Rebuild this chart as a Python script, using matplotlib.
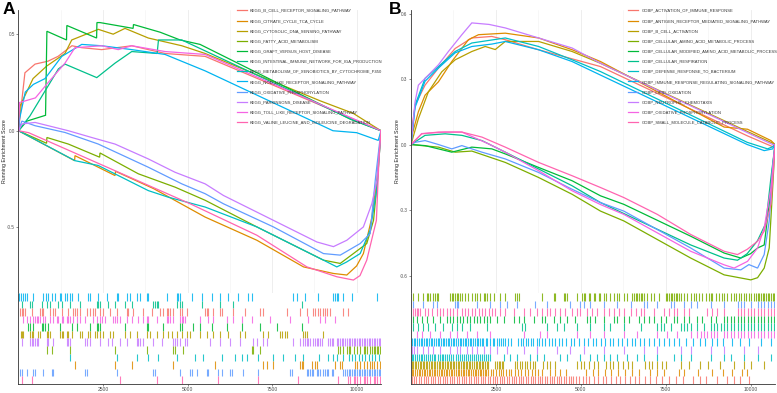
import matplotlib
matplotlib.use("Agg")
import matplotlib.pyplot as plt
from matplotlib.lines import Line2D

plt.rcParams['font.family'] = ['Liberation Sans', 'DejaVu Sans']
plt.rcParams['axes.unicode_minus'] = False

# ggplot hue palette, one colour per gene set (legend order)
PALETTE = ['#F8766D', '#DE8C00', '#B79F00', '#7CAE00', '#00BA38', '#00C08B',
           '#00BFC4', '#00B4F0', '#619CFF', '#C77CFF', '#F564E3', '#FF64B0']
N_GENES = 10720
X_TICKS = [2500, 5000, 7500, 10000]

# ---------------- Panel A : KEGG ----------------
A_NAMES = ['KEGG_B_CELL_RECEPTOR_SIGNALING_PATHWAY', 'KEGG_CITRATE_CYCLE_TCA_CYCLE',
           'KEGG_CYTOSOLIC_DNA_SENSING_PATHWAY', 'KEGG_FATTY_ACID_METABOLISM',
           'KEGG_GRAFT_VERSUS_HOST_DISEASE', 'KEGG_INTESTINAL_IMMUNE_NETWORK_FOR_IGA_PRODUCTION',
           'KEGG_METABOLISM_OF_XENOBIOTICS_BY_CYTOCHROME_P450', 'KEGG_NOD_LIKE_RECEPTOR_SIGNALING_PATHWAY',
           'KEGG_OXIDATIVE_PHOSPHORYLATION', 'KEGG_PARKINSONS_DISEASE',
           'KEGG_TOLL_LIKE_RECEPTOR_SIGNALING_PATHWAY', 'KEGG_VALINE_LEUCINE_AND_ISOLEUCINE_DEGRADATION']

# running enrichment score (rank, score)
A_BCELL_X = [0, 190, 490, 870, 1170, 1580, 1870, 2460, 3350, 4335, 5520, 10720]
A_BCELL_Y = [0, 0.30, 0.345, 0.36, 0.385, 0.44, 0.43, 0.42, 0.44, 0.40, 0.385, 0]
A_CITRATE_X = [0, 1660, 1670, 2855, 2870, 4000, 5520, 7050, 8430, 9315, 9710, 10000, 10200, 10450, 10600, 10720]
A_CITRATE_Y = [0, -0.155, -0.129, -0.232, -0.21, -0.30, -0.447, -0.567, -0.705, -0.739, -0.747, -0.70, -0.636, -0.45, -0.25, 0]
A_CYTO_X = [0, 50, 430, 835, 1375, 1575, 2360, 2800, 3150, 3840, 4830, 5520, 8920, 9900, 10720]
A_CYTO_Y = [0, 0.13, 0.27, 0.335, 0.40, 0.47, 0.525, 0.50, 0.53, 0.48, 0.44, 0.40, 0.155, 0.09, 0]
A_FATTY_X = [0, 830, 840, 1475, 2400, 2410, 3545, 4630, 5520, 7050, 9020, 9515, 9905, 10300, 10500, 10620, 10720]
A_FATTY_Y = [0, -0.065, -0.035, -0.069, -0.137, -0.115, -0.223, -0.292, -0.36, -0.498, -0.67, -0.687, -0.636, -0.584, -0.464, -0.25, 0]
A_GRAFT_X = [0, 250, 800, 840, 1420, 1430, 2310, 2320, 2410, 3390, 3400, 4190, 4780, 5370, 9810, 10720]
A_GRAFT_Y = [0, 0.05, 0.08, 0.515, 0.47, 0.545, 0.48, 0.56, 0.56, 0.53, 0.55, 0.51, 0.47, 0.447, 0.06, 0]
A_INTEST_X = [0, 340, 1180, 1375, 2315, 2855, 3350, 4100, 4140, 4830, 9900, 10720]
A_INTEST_Y = [0, 0.077, 0.32, 0.345, 0.275, 0.35, 0.41, 0.40, 0.47, 0.47, 0.055, 0]
A_XENO_X = [0, 1670, 2360, 3840, 4430, 5520, 7050, 9020, 9415, 9700, 10105, 10400, 10600, 10720]
A_XENO_Y = [0, -0.155, -0.18, -0.31, -0.344, -0.395, -0.498, -0.67, -0.705, -0.68, -0.636, -0.515, -0.3, 0]
A_NOD_X = [0, 30, 200, 440, 785, 1280, 1870, 2460, 3350, 4335, 5520, 9300, 10000, 10640, 10720]
A_NOD_Y = [0, 0.06, 0.20, 0.24, 0.27, 0.385, 0.447, 0.44, 0.42, 0.395, 0.31, 0.0, -0.01, -0.05, 0]
A_OXPHOS_X = [0, 100, 490, 1375, 2360, 3840, 4830, 5520, 6060, 7540, 9020, 9515, 10105, 10400, 10550, 10720]
A_OXPHOS_Y = [0, 0.05, 0.026, -0.009, -0.069, -0.189, -0.275, -0.326, -0.378, -0.498, -0.636, -0.644, -0.584, -0.533, -0.258, 0]
A_PARK_X = [0, 100, 490, 1475, 2165, 2855, 3840, 4630, 5520, 6060, 7540, 8825, 9315, 9710, 10200, 10450, 10600, 10720]
A_PARK_Y = [0, 0.035, 0.043, 0.0, -0.035, -0.069, -0.146, -0.215, -0.275, -0.335, -0.464, -0.576, -0.60, -0.567, -0.498, -0.378, -0.258, 0]
A_TOLL_X = [0, 30, 500, 880, 1375, 1670, 2460, 2950, 3350, 4335, 5520, 10720]
A_TOLL_Y = [0, 0.146, 0.17, 0.25, 0.35, 0.43, 0.44, 0.42, 0.44, 0.41, 0.395, 0]
A_VALINE_X = [0, 300, 5075, 7050, 8530, 9415, 9905, 10100, 10300, 10585, 10660, 10720]
A_VALINE_Y = [0, -0.01, -0.378, -0.541, -0.705, -0.756, -0.773, -0.75, -0.67, -0.464, -0.15, 0]

# hit positions (gene ranks) shown in the rug
A_BCELL_HITS = [45, 94, 143, 193, 390, 637, 686, 735, 932, 1031, 1080, 1277, 1474, 1622, 1672, 1721, 1820, 2017, 2115, 2214, 2263, 2411, 2510, 2707, 2904, 3200, 3250, 3397, 3693, 3940, 4187, 4285, 4384, 4433, 4483, 4581, 4778, 4828, 4976, 5518, 5568, 5617, 5765, 5962, 6011, 6357, 6702, 7145, 7244, 7935, 8329, 8526, 8723, 8772, 8871, 8920, 9019, 9068, 9117, 9216, 9610, 9758]
A_CITRATE_HITS = [1672, 2856, 3349, 4582, 5815, 7245, 7343, 7540, 8330, 8379, 8428, 8675, 8774, 8823, 9365, 9513, 9563, 9957, 10006, 10105, 10204, 10302, 10401, 10450, 10500, 10598, 10697]
A_CYTO_HITS = [64, 94, 143, 340, 390, 439, 587, 636, 834, 883, 932, 1228, 1277, 1327, 1425, 1475, 1573, 1820, 1869, 2066, 2116, 2264, 2313, 2412, 2510, 2707, 2806, 3151, 3299, 3496, 3792, 3891, 4088, 4285, 4433, 4532, 4680, 4828, 4976, 5074, 5371, 5568, 5765, 5962, 6209, 6554, 6702, 7244, 7392, 7738, 7787, 7886, 7935, 8428, 8478, 8527, 9020]
A_FATTY_HITS = [834, 982, 1524, 2856, 3792, 4582, 4631, 4878, 6900, 6949, 7146, 9463, 9513, 9611, 9710, 9760, 9809, 9908, 10006, 10105, 10204, 10253, 10302, 10401, 10450, 10500, 10549, 10598, 10647, 10697]
A_GRAFT_HITS = [291, 340, 439, 686, 735, 784, 883, 1228, 1573, 1721, 2115, 2312, 2362, 2411, 3151, 3792, 3841, 4285, 4779, 4828, 5173, 5371, 5716, 6160, 6604, 7146, 7640, 8379]
A_INTEST_HITS = [94, 341, 390, 686, 834, 933, 1179, 1278, 1524, 1820, 2313, 2363, 2412, 2658, 2856, 3152, 3349, 3990, 4039, 4089, 4138, 4680, 4779, 4828, 5420, 5963, 6357, 8379]
A_XENO_HITS = [1524, 2904, 3496, 3841, 4137, 4680, 5223, 5469, 6012, 6406, 6603, 6751, 7097, 7540, 7836, 8182, 8429, 8873, 9168, 9316, 9415, 9612, 9760, 9859, 9958, 10056, 10155, 10254, 10352, 10451, 10549, 10648]
A_NOD_HITS = [15, 64, 124, 193, 242, 439, 735, 804, 863, 982, 1080, 1228, 1258, 1376, 1426, 1524, 1574, 1771, 2067, 2116, 2363, 2609, 2905, 2955, 3201, 3300, 3497, 3595, 3793, 3842, 4385, 4680, 4730, 4779, 5124, 5420, 5716, 5963, 6209, 6505, 6801, 6900, 8132, 8231, 8478, 8872, 9316, 9365, 9415, 9464, 9612, 9859, 10598]
A_OXPHOS_HITS = [45, 94, 242, 439, 489, 735, 982, 1031, 1968, 2017, 2905, 3990, 4039, 4779, 5075, 5124, 5272, 5568, 5617, 5913, 6012, 6258, 6308, 6653, 7097, 8034, 8083, 8527, 8576, 8626, 8675, 8724, 8823, 8872, 8922, 9020, 9070, 9119, 9168, 9267, 9316, 9612, 9661, 9711, 9760, 9809, 9859, 9908, 9958, 10007, 10056, 10105, 10155, 10204, 10253, 10302, 10352, 10401, 10450, 10500, 10549, 10598, 10648, 10697]
A_PARK_HITS = [94, 341, 390, 439, 489, 538, 587, 834, 883, 1031, 1425, 1475, 1524, 1968, 2017, 2116, 2412, 2658, 2757, 3003, 3200, 3496, 3546, 3595, 3694, 3990, 4237, 4582, 4631, 4680, 4779, 4927, 4976, 5667, 5963, 6258, 6554, 6949, 7048, 7245, 7343, 8132, 8330, 8428, 8478, 8527, 8576, 8626, 8724, 8774, 8823, 8872, 8922, 8971, 9168, 9218, 9267, 9316, 9415, 9464, 9514, 9563, 9612, 9662, 9711, 9760, 9810, 9859, 9908, 9958, 10007, 10056, 10105, 10155, 10204, 10253, 10303, 10352, 10401, 10451, 10500, 10549, 10598, 10648, 10697]
A_TOLL_HITS = [143, 242, 340, 439, 488, 538, 587, 636, 735, 784, 932, 1030, 1129, 1178, 1277, 1326, 1425, 1474, 1524, 1622, 1721, 1819, 1967, 2214, 2313, 2411, 2460, 2559, 2806, 2855, 2904, 3003, 3200, 3348, 3545, 3693, 3792, 3841, 4088, 4384, 4434, 4483, 4582, 4779, 4828, 4877, 4927, 5370, 5616, 5764, 6159, 6356, 6603, 6899, 7442, 8034, 8576, 8921, 9069, 9365]
A_VALINE_HITS = [94, 390, 3003, 4088, 4828, 5913, 7097, 8280, 9463, 9759, 9809, 9908, 9957, 10007, 10105, 10204, 10253, 10302, 10401, 10500, 10549, 10598, 10697]

A_X = [A_BCELL_X, A_CITRATE_X, A_CYTO_X, A_FATTY_X, A_GRAFT_X, A_INTEST_X,
       A_XENO_X, A_NOD_X, A_OXPHOS_X, A_PARK_X, A_TOLL_X, A_VALINE_X]
A_Y = [A_BCELL_Y, A_CITRATE_Y, A_CYTO_Y, A_FATTY_Y, A_GRAFT_Y, A_INTEST_Y,
       A_XENO_Y, A_NOD_Y, A_OXPHOS_Y, A_PARK_Y, A_TOLL_Y, A_VALINE_Y]
A_HITS = [A_BCELL_HITS, A_CITRATE_HITS, A_CYTO_HITS, A_FATTY_HITS, A_GRAFT_HITS, A_INTEST_HITS,
          A_XENO_HITS, A_NOD_HITS, A_OXPHOS_HITS, A_PARK_HITS, A_TOLL_HITS, A_VALINE_HITS]
# rug rows from top to bottom (index into the lists above)
A_RUG_ORDER = [7, 5, 0, 10, 4, 2, 9, 3, 6, 1, 8, 11]

# ---------------- Panel B : GOBP ----------------
B_NAMES = ['GOBP_ACTIVATION_OF_IMMUNE_RESPONSE', 'GOBP_ANTIGEN_RECEPTOR_MEDIATED_SIGNALING_PATHWAY',
           'GOBP_B_CELL_ACTIVATION', 'GOBP_CELLULAR_AMINO_ACID_METABOLIC_PROCESS',
           'GOBP_CELLULAR_MODIFIED_AMINO_ACID_METABOLIC_PROCESS', 'GOBP_CELLULAR_RESPIRATION',
           'GOBP_DEFENSE_RESPONSE_TO_BACTERIUM', 'GOBP_IMMUNE_RESPONSE_REGULATING_SIGNALING_PATHWAY',
           'GOBP_LIPID_OXIDATION', 'GOBP_NEUTROPHIL_CHEMOTAXIS',
           'GOBP_OXIDATIVE_PHOSPHORYLATION', 'GOBP_SMALL_MOLECULE_CATABOLIC_PROCESS']

B_ACT_X = [0, 50, 120, 413, 806, 1300, 1790, 2380, 2775, 3757, 5580, 9900, 10500, 10650, 10720]
B_ACT_Y = [0, 0.10, 0.18, 0.272, 0.35, 0.44, 0.488, 0.495, 0.48, 0.434, 0.357, 0.04, 0.0, -0.01, 0]
B_ANTIGEN_X = [0, 40, 216, 413, 806, 1200, 1690, 1987, 2775, 3757, 4744, 5580, 9220, 9910, 10600, 10720]
B_ANTIGEN_Y = [0, 0.05, 0.15, 0.226, 0.287, 0.38, 0.48, 0.503, 0.51, 0.488, 0.434, 0.38, 0.08, 0.07, 0.018, 0]
B_BCELL_X = [0, 216, 510, 905, 1300, 1790, 2185, 2480, 2775, 3757, 4744, 5580, 9900, 10600, 10720]
B_BCELL_Y = [0, 0.118, 0.241, 0.333, 0.388, 0.426, 0.449, 0.435, 0.472, 0.472, 0.426, 0.372, 0.06, 0.01, 0]
B_AMINO_X = [0, 315, 806, 1300, 1790, 2775, 3757, 4744, 5580, 6267, 8236, 9220, 10007, 10205, 10400, 10548, 10650, 10720]
B_AMINO_Y = [0, -0.005, -0.012, -0.035, -0.03, -0.082, -0.151, -0.228, -0.305, -0.35, -0.52, -0.597, -0.62, -0.61, -0.566, -0.474, -0.197, 0]
B_MODIF_X = [0, 413, 1200, 1790, 2380, 2775, 3757, 4744, 5580, 6267, 8236, 9220, 9712, 10000, 10205, 10400, 10548, 10650, 10720]
B_MODIF_Y = [0, -0.005, -0.035, -0.012, -0.02, -0.043, -0.105, -0.166, -0.235, -0.274, -0.42, -0.497, -0.52, -0.50, -0.474, -0.46, -0.274, -0.1, 0]
B_RESP_X = [0, 413, 1004, 1497, 2087, 2775, 3757, 4744, 5580, 8236, 9220, 9614, 9900, 10205, 10450, 10600, 10720]
B_RESP_Y = [0, 0.042, 0.049, 0.042, 0.018, -0.035, -0.112, -0.189, -0.266, -0.46, -0.52, -0.53, -0.50, -0.44, -0.36, -0.15, 0]
B_DEFENSE_X = [0, 118, 413, 806, 1300, 1790, 2775, 3757, 4744, 5580, 9900, 10500, 10650, 10720]
B_DEFENSE_Y = [0, 0.18, 0.303, 0.357, 0.426, 0.465, 0.488, 0.449, 0.388, 0.334, 0.01, -0.02, -0.01, 0]
B_IMMREG_X = [0, 118, 413, 806, 1300, 1790, 2380, 2775, 3757, 4744, 5580, 9900, 10400, 10650, 10720]
B_IMMREG_Y = [0, 0.17, 0.29, 0.35, 0.42, 0.449, 0.46, 0.472, 0.434, 0.38, 0.318, 0.0, -0.028, -0.02, 0]
B_LIPID_X = [0, 120, 413, 806, 1200, 1497, 2087, 2775, 3757, 4744, 5580, 6267, 8236, 9220, 9712, 9950, 10205, 10400, 10548, 10650, 10720]
B_LIPID_Y = [0, 0.01, 0.018, 0.0, -0.02, -0.005, -0.035, -0.066, -0.128, -0.205, -0.266, -0.305, -0.474, -0.566, -0.574, -0.55, -0.566, -0.504, -0.35, -0.1, 0]
B_NEUTRO_X = [0, 118, 216, 510, 806, 1100, 1497, 1790, 2300, 2775, 3757, 4744, 5580, 10650, 10720]
B_NEUTRO_Y = [0, 0.195, 0.272, 0.318, 0.365, 0.426, 0.503, 0.557, 0.55, 0.534, 0.488, 0.442, 0.372, 0.0, 0]
B_OXPHOS_X = [0, 315, 1004, 1497, 2282, 2775, 3757, 4744, 5580, 6267, 8236, 9220, 9515, 9910, 10205, 10400, 10600, 10720]
B_OXPHOS_Y = [0, 0.05, 0.057, 0.057, 0.003, -0.035, -0.12, -0.212, -0.275, -0.32, -0.489, -0.551, -0.566, -0.535, -0.474, -0.382, -0.197, 0]
B_SMALL_X = [0, 315, 806, 1497, 2087, 2775, 3757, 4744, 5580, 6267, 7253, 8236, 9220, 9614, 9900, 10205, 10400, 10597, 10680, 10720]
B_SMALL_Y = [0, 0.049, 0.057, 0.057, 0.034, -0.012, -0.082, -0.143, -0.197, -0.243, -0.32, -0.412, -0.489, -0.504, -0.48, -0.443, -0.397, -0.274, -0.1, 0]

B_ACT_HITS = [20, 90, 160, 230, 300, 370, 440, 510, 580, 650, 720, 790, 860, 930, 1000, 1070, 1140, 1210, 1280, 1350, 1420, 1490, 1560, 1630, 1700, 1770, 1840, 1910, 1980, 2050, 2120, 2190, 2260, 2330, 2400, 2470, 2540, 2610, 2680, 2750, 2820, 2890, 2960, 3030, 3100, 3170, 3240, 3310, 3380, 3450, 3520, 3590, 3660, 3730, 3800, 3870, 3940, 4010, 4080, 4150, 4220, 4290, 4360, 4430, 4500, 4570, 4640, 4710, 4780, 4850, 4950, 5050, 5150, 5250, 5400, 5500, 5650, 5750, 5900, 6050, 6150, 6300, 6450, 6600, 6700, 6900, 7050, 7200, 7400, 7600, 7800, 8000, 8300, 8500, 8700, 9000, 9300, 9500, 9700, 9950]
B_ANTIGEN_HITS = [20, 70, 120, 170, 220, 270, 320, 370, 420, 470, 520, 570, 620, 670, 720, 770, 820, 870, 920, 970, 1020, 1070, 1120, 1170, 1220, 1270, 1320, 1370, 1420, 1470, 1520, 1570, 1620, 1670, 1720, 1770, 1820, 1870, 1920, 1970, 2020, 2070, 2120, 2170, 2220, 2280, 2350, 2420, 2500, 2580, 2650, 2720, 2800, 2880, 2950, 3050, 3150, 3250, 3350, 3450, 3550, 3650, 3750, 3850, 4100, 4250, 4400, 4550, 5150, 5350, 5500, 5700, 5900, 6100, 6300, 6500, 6700, 7050, 7250, 7450, 7900, 8050, 8450, 8850, 9200, 9450, 9750, 9900]
B_BCELL_HITS = [20, 60, 110, 150, 200, 250, 290, 340, 390, 430, 480, 530, 580, 620, 670, 720, 760, 810, 860, 900, 950, 1000, 1050, 1090, 1140, 1190, 1230, 1280, 1330, 1380, 1420, 1470, 1520, 1560, 1610, 1660, 1710, 1750, 1800, 1850, 1900, 1940, 1990, 2040, 2090, 2130, 2180, 2230, 2280, 2480, 2530, 2580, 2630, 2680, 2720, 3050, 3120, 3200, 3270, 3350, 3420, 3500, 3580, 3650, 3900, 4000, 4100, 4250, 4900, 5000, 5100, 5250, 5400, 5500, 5750, 5850, 5950, 6100, 6250, 6400, 6500, 6900, 7000, 7100, 7250, 7400, 7500, 7950, 8200, 8500, 8750, 9100, 9500, 9800, 10000, 10400]
B_AMINO_HITS = [69, 216, 364, 462, 512, 561, 659, 708, 758, 807, 1151, 1200, 1250, 1299, 1348, 1397, 1446, 1496, 1594, 1692, 1791, 1889, 1938, 2037, 2135, 2184, 2234, 2332, 2430, 2627, 2775, 3070, 3119, 3168, 3857, 4202, 4251, 4497, 4546, 4595, 4890, 5038, 5087, 5136, 5235, 5284, 5382, 5432, 5530, 5579, 5678, 5727, 5874, 5973, 6071, 6120, 6268, 6366, 6514, 6563, 6612, 6662, 6711, 6760, 6809, 6858, 6957, 7055, 7154, 7301, 7498, 7547, 7596, 7646, 7695, 7744, 7793, 7842, 7892, 7941, 8039, 8138, 8236, 8334, 8384, 8482, 8580, 8679, 8777, 8826, 8876, 8974, 9072, 9171, 9220, 9318, 9417, 9515, 9564, 9663, 9712, 9810, 9860, 9958, 10007, 10106, 10155, 10204, 10253, 10302, 10352, 10401, 10450, 10499, 10548, 10598, 10647, 10696]
B_MODIF_HITS = [69, 167, 315, 462, 659, 856, 1053, 1151, 1250, 1348, 1446, 1545, 1643, 1742, 1840, 1938, 2037, 2135, 2234, 2332, 2529, 2726, 3021, 3168, 3316, 3611, 3857, 3956, 4202, 4398, 4595, 4841, 5186, 5284, 5432, 5678, 5973, 6071, 6268, 6416, 6711, 6858, 7006, 7154, 7350, 7498, 7744, 7842, 8039, 8187, 8433, 8580, 8826, 8974, 9220, 9318, 9417, 9515, 9614, 9712, 9810, 9909, 10007, 10106, 10204, 10302, 10401, 10499, 10598, 10696]
B_RESP_HITS = [69, 216, 364, 512, 708, 954, 1200, 1348, 1496, 1742, 2234, 3267, 3365, 4005, 4300, 4497, 4890, 5284, 5678, 5874, 6268, 6760, 7252, 7350, 7449, 7646, 7941, 8039, 8138, 8236, 8433, 8630, 8826, 8925, 9023, 9122, 9220, 9318, 9417, 9515, 9614, 9712, 9810, 9909, 10007, 10106, 10204, 10302, 10401, 10499, 10598, 10696]
B_DEFENSE_HITS = [20, 70, 120, 170, 220, 280, 330, 390, 440, 500, 560, 610, 670, 720, 780, 840, 900, 950, 1010, 1070, 1130, 1190, 1250, 1310, 1370, 1430, 1490, 1550, 1610, 1670, 1730, 1790, 1850, 1910, 1970, 2030, 2090, 2150, 2210, 2270, 2330, 2726, 2922, 3119, 3513, 3710, 3906, 4398, 4595, 4989, 5284, 5481, 5678, 5874, 6071, 6366, 6662, 6858, 7252, 7744, 7941, 8236, 8826, 9220, 9417, 9810, 10204, 10598]
B_IMMREG_HITS = [30, 80, 130, 180, 230, 280, 330, 380, 430, 480, 530, 580, 630, 680, 730, 780, 830, 880, 930, 980, 1030, 1080, 1130, 1180, 1230, 1280, 1330, 1380, 1430, 1480, 1530, 1580, 1630, 1680, 1730, 1780, 1830, 1880, 1930, 1980, 2030, 2080, 2130, 2200, 2250, 2330, 2400, 2450, 2520, 2600, 2650, 2700, 2780, 2850, 2930, 3150, 3230, 3300, 3380, 3450, 3530, 3600, 3700, 3780, 3850, 3950, 4050, 4150, 4250, 4350, 4450, 4550, 4700, 4800, 4950, 5100, 5200, 5350, 5450, 5600, 5700, 5850, 5950, 6100, 6200, 6350, 6500, 6600, 6750, 6850, 7000, 7150, 7300, 7450, 7600, 7750, 7900, 8100, 8300, 8500, 8650, 8850, 9000, 9200, 9450, 9700, 9950, 10300, 10600]
B_LIPID_HITS = [69, 364, 659, 758, 1299, 1348, 1397, 1938, 2332, 2627, 2824, 3119, 3660, 4005, 4694, 4989, 5087, 5284, 5678, 6071, 6465, 6858, 6957, 7252, 7646, 7744, 8039, 8236, 8433, 8826, 9220, 9614, 9712, 9810, 10007, 10204, 10302, 10401, 10499, 10598, 10696]
B_NEUTRO_HITS = [20, 100, 167, 364, 512, 659, 856, 1151, 1348, 1446, 1643, 1791, 1938, 2135, 2332, 2529, 2824, 3316, 3710, 4300, 4694, 5087, 5678, 6268, 6858, 7252, 7941, 8236, 8826, 9220, 9810, 10204]
B_OXPHOS_HITS = [167, 315, 561, 856, 1151, 1348, 1643, 1938, 2332, 3316, 3808, 4005, 4890, 5284, 5678, 6268, 6662, 7252, 7547, 7842, 8236, 8433, 8531, 8630, 8728, 8826, 8925, 9023, 9220, 9318, 9417, 9515, 9614, 9712, 9810, 9909, 10007, 10106, 10204, 10302, 10401, 10499, 10598, 10696]
B_SMALL_HITS = [69, 118, 167, 216, 266, 413, 512, 610, 758, 856, 954, 1053, 1151, 1250, 1348, 1496, 1594, 1692, 1791, 1889, 1987, 2086, 2184, 2283, 2381, 2480, 2627, 2775, 3021, 3316, 3513, 3710, 3857, 4005, 4103, 4251, 4398, 4546, 4743, 4890, 4989, 5186, 5333, 5481, 5678, 5825, 5973, 6120, 6268, 6465, 6612, 6760, 6858, 7154, 7449, 7596, 7744, 7842, 8039, 8187, 8728, 8876, 9023, 9220, 9614, 9712, 9810, 9909, 10007, 10106, 10204, 10302, 10401, 10499, 10598, 10696]

B_X = [B_ACT_X, B_ANTIGEN_X, B_BCELL_X, B_AMINO_X, B_MODIF_X, B_RESP_X,
       B_DEFENSE_X, B_IMMREG_X, B_LIPID_X, B_NEUTRO_X, B_OXPHOS_X, B_SMALL_X]
B_Y = [B_ACT_Y, B_ANTIGEN_Y, B_BCELL_Y, B_AMINO_Y, B_MODIF_Y, B_RESP_Y,
       B_DEFENSE_Y, B_IMMREG_Y, B_LIPID_Y, B_NEUTRO_Y, B_OXPHOS_Y, B_SMALL_Y]
B_HITS = [B_ACT_HITS, B_ANTIGEN_HITS, B_BCELL_HITS, B_AMINO_HITS, B_MODIF_HITS, B_RESP_HITS,
          B_DEFENSE_HITS, B_IMMREG_HITS, B_LIPID_HITS, B_NEUTRO_HITS, B_OXPHOS_HITS, B_SMALL_HITS]
B_RUG_ORDER = [3, 8, 11, 4, 5, 10, 7, 9, 6, 2, 1, 0]


def draw_panel(fig, left, width, names, xs, ys, hits, rug_order, ylim, yticks, ytick_labels,
               letter, letter_x, leg_x):
    ax = fig.add_axes([left, 0.2545, width, 0.72])
    rug = fig.add_axes([left, 0.0229, width, 0.2316])

    for i in range(len(names)):
        ax.plot(xs[i], ys[i], color=PALETTE[i], lw=0.9, solid_joinstyle='miter')

    ax.set_xlim(0, N_GENES)
    ax.set_ylim(*ylim)
    ax.set_xticks(X_TICKS)
    ax.set_xticks([1250, 3750, 6250, 8750], minor=True)
    ax.grid(axis='x', which='major', color='#EBEBEB', lw=0.6)
    ax.grid(axis='x', which='minor', color='#F2F2F2', lw=0.4)
    ax.tick_params(axis='x', which='both', bottom=False, labelbottom=False)
    ax.set_yticks(yticks)
    ax.set_yticklabels(ytick_labels)
    ax.tick_params(axis='y', labelsize=3.3, labelcolor='#4D4D4D', length=1.5, width=0.4,
                   color='#333333', pad=1)
    for s in ['top', 'right', 'bottom']:
        ax.spines[s].set_visible(False)
    ax.spines['left'].set_color('#333333')
    ax.spines['left'].set_linewidth(0.6)
    ax.set_axisbelow(True)

    handles = [Line2D([], [], color=PALETTE[i], lw=0.9) for i in range(len(names))]
    ax.legend(handles, names, loc='upper left', bbox_to_anchor=(leg_x, 1.004),
              frameon=False, fontsize=2.95, handlelength=2.4, handletextpad=0.75,
              labelspacing=1.5, borderpad=0, borderaxespad=0, labelcolor='#333333')

    # rug of hits, one row per gene set
    nrows = len(rug_order)
    for row, idx in enumerate(rug_order):
        y0 = nrows - row - 1
        rug.vlines(hits[idx], y0, y0 + 1, color=PALETTE[idx], lw=0.8, alpha=0.85)
    rug.set_xlim(0, N_GENES)
    rug.set_ylim(0, nrows)
    rug.set_yticks([])
    rug.set_xticks(X_TICKS)
    rug.set_xticklabels([str(t) for t in X_TICKS])
    rug.tick_params(axis='x', labelsize=3.6, labelcolor='#4D4D4D', length=1.5, width=0.4,
                    color='#333333', pad=1)
    for s in ['top', 'right']:
        rug.spines[s].set_visible(False)
    for s in ['left', 'bottom']:
        rug.spines[s].set_color('#333333')
        rug.spines[s].set_linewidth(0.6)

    fig.text(left - 0.018, 0.616, 'Running Enrichment Score', rotation=90,
             fontsize=3.8, color='#222222', ha='center', va='center')
    fig.text(letter_x, 0.995, letter, fontsize=12.5, fontweight='bold', va='top', ha='left')


fig = plt.figure(figsize=(7.77, 3.93), dpi=100)
draw_panel(fig, 0.0238, 0.4665, A_NAMES, A_X, A_Y, A_HITS, A_RUG_ORDER,
           (-0.84, 0.625), [-0.5, 0.0, 0.5], ['-0.5', '0.0', '0.5'], 'A', 0.003, 0.603)
draw_panel(fig, 0.529, 0.4685, B_NAMES, B_X, B_Y, B_HITS, B_RUG_ORDER,
           (-0.68, 0.616), [-0.6, -0.3, 0.0, 0.3, 0.6], ['-0.6', '-0.3', '0.0', '0.3', '0.6'],
           'B', 0.501, 0.597)

fig.savefig('out.png', dpi=100)
